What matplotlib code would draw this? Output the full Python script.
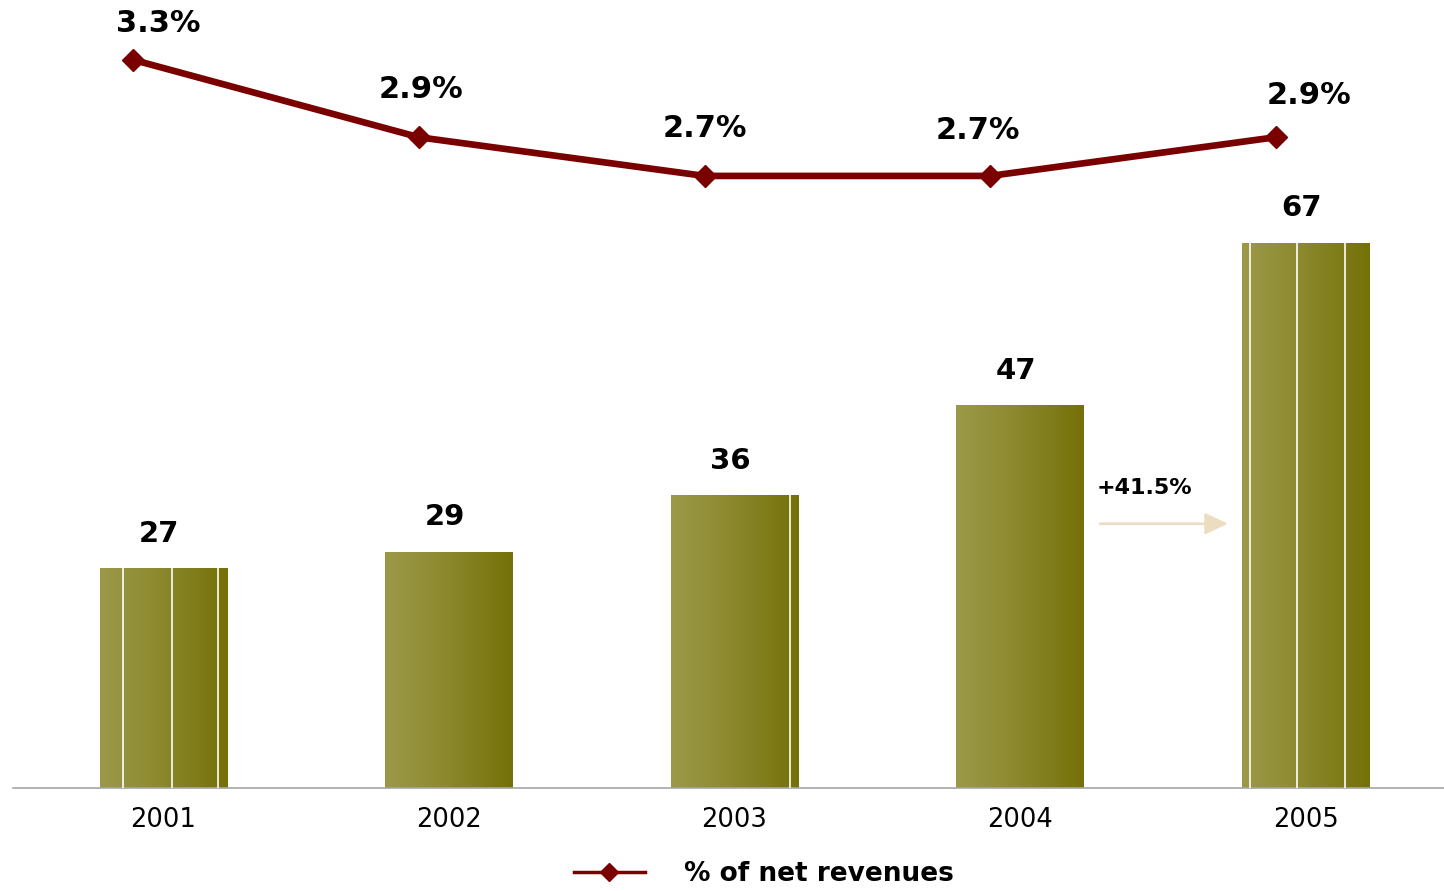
import numpy as np
import matplotlib.pyplot as plt
from matplotlib.lines import Line2D

plt.rcParams['font.family'] = ['DejaVu Sans']

# данные
years = ['2001', '2002', '2003', '2004', '2005']
values = [27, 29, 36, 47, 67]
pct_net_rev = [3.3, 2.9, 2.7, 2.7, 2.9]
pct_labels = ['3.3%', '2.9%', '2.7%', '2.7%', '2.9%']
growth_label = '+41.5%'
legend_label = '% of net revenues'

# цвета
bar_left = np.array([0x9b, 0x98, 0x47]) / 255
bar_right = np.array([0x74, 0x71, 0x08]) / 255
line_color = '#7a0000'
arrow_color = '#ecdcc0'

fig = plt.figure(figsize=(14.44, 8.91), dpi=100)
ax = fig.add_axes([13 / 1444, 103 / 891, 1 - 13 / 1444, 788 / 891])

x = np.arange(len(years))
bw = 0.445
bars = ax.bar(x, values, width=bw, color='none', edgecolor='none', zorder=2)

ax.set_xlim(-0.527, 4.485)
ax.set_ylim(0, 96.9)

# градиент внутри столбиков
grad = np.linspace(0, 1, 256) ** 1.2
img = (bar_left[None, :] * (1 - grad[:, None]) + bar_right[None, :] * grad[:, None])[None, :, :]
for b in bars:
    ax.imshow(img, extent=(b.get_x(), b.get_x() + b.get_width(), 0, b.get_height()),
              aspect='auto', zorder=2, interpolation='bilinear')

# тонкие белые полосы на некоторых столбиках
stripes = {0: [0.184, 0.568, 0.928], 2: [0.936], 4: [0.064, 0.432, 0.808]}
for i, fr in stripes.items():
    b = bars[i]
    for f in fr:
        xs = b.get_x() + f * b.get_width()
        ax.plot([xs, xs], [0, b.get_height()], color='white', lw=1.2, zorder=3)

ax.set_xlim(-0.527, 4.485)
ax.set_ylim(0, 96.9)

for b, v in zip(bars, values):
    ax.annotate(str(v), (b.get_x() + b.get_width() / 2, v), xytext=(-3, 25),
                textcoords='offset points', ha='center', va='center',
                fontsize=21, fontweight='bold', color='black')

# стрелка роста
ax.annotate('', xy=(3.728, 32.5), xytext=(3.28, 32.5),
            arrowprops=dict(arrowstyle='-|>,head_length=1.0,head_width=0.47',
                            mutation_scale=14, color=arrow_color, lw=1.8,
                            shrinkA=0, shrinkB=0))
ax.text(3.435, 36.9, growth_label, ha='center', va='center', fontsize=16,
        fontweight='bold', color='black')

ax.set_xticks(x)
ax.set_xticklabels(years, fontsize=18.5)
ax.tick_params(axis='x', length=0, pad=14)
ax.set_yticks([])
for s in ['top', 'right', 'left']:
    ax.spines[s].set_visible(False)
ax.spines['bottom'].set_color('#a6a6a6')
ax.spines['bottom'].set_linewidth(1.2)

# линия доли от выручки
ax2 = ax.twinx()
ax2.set_ylim(-0.466, 3.61)
ax2.set_yticks([])
for s in ax2.spines.values():
    s.set_visible(False)
xl = x - 0.105
ax2.plot(xl, pct_net_rev, color=line_color, lw=4.8, marker='D', markersize=11,
         zorder=4, clip_on=False)
offsets = [(18, 26), (1.5, 34.5), (0, 34.5), (-9, 33), (24, 30)]
for xi, p, lab, off in zip(xl, pct_net_rev, pct_labels, offsets):
    ax2.annotate(lab, (xi, p), xytext=off, textcoords='offset points',
                 ha='center', va='center', fontsize=22, fontweight='bold')

handle = Line2D([], [], color=line_color, lw=2.5, marker='D', markersize=9)
fig.legend([handle], [legend_label], loc='center', bbox_to_anchor=(0.529, 0.019),
           frameon=False, handlelength=2.7, handletextpad=1.5,
           prop={'size': 19, 'weight': 'bold'})

fig.savefig('out.png', dpi=100)
